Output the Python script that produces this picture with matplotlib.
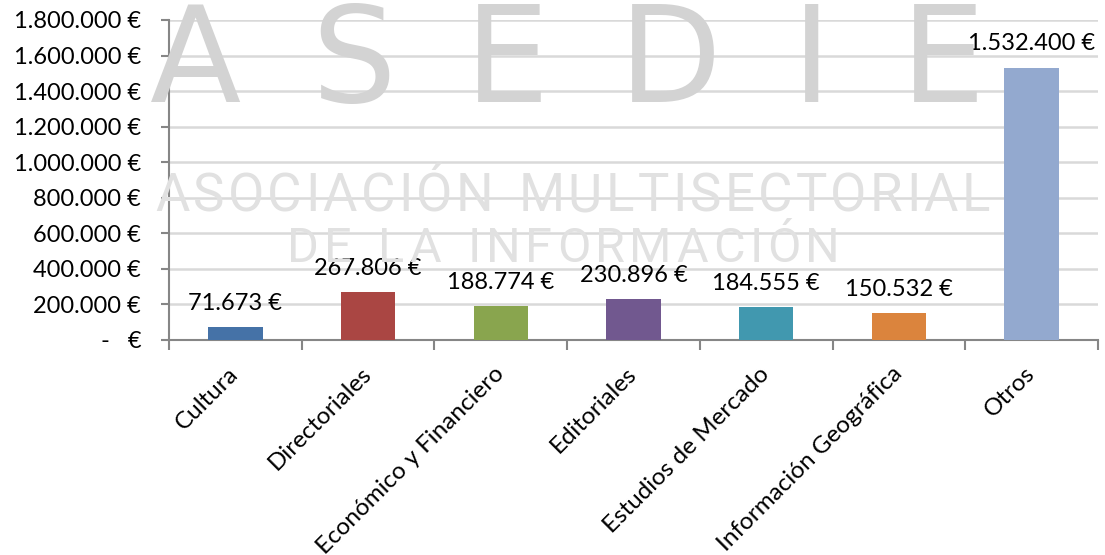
import matplotlib
matplotlib.use("Agg")
import matplotlib.pyplot as plt
from matplotlib.ticker import FuncFormatter, FixedLocator

# Chart data
categories = ["Cultura", "Directoriales", "Económico y Financiero", "Editoriales",
              "Estudios de Mercado", "Información Geográfica", "Otros"]
values = [71673, 267806, 188774, 230896, 184555, 150532, 1532400]
colors = ["#4572A7", "#AA4643", "#89A54E", "#71588F", "#4198AF", "#DB843D", "#93A9CF"]
y_ticks = [0, 200000, 400000, 600000, 800000, 1000000, 1200000, 1400000, 1600000, 1800000]

W, H = 1105, 555


def euro(v, pos=None):
    if v == 0:
        return "-   €"
    return "{:,.0f} €".format(v).replace(",", ".")


def spread_text(fig, s, x0, x1, base_y, **kw):
    # lay the letters of a watermark line out evenly between x0 and x1 (pixels)
    r = fig.canvas.get_renderer()
    items = []
    for ch in s:
        if ch == " ":
            items.append((None, None))
            continue
        t = fig.text(0, 1 - base_y / H, ch, va="baseline", ha="left", zorder=0, **kw)
        items.append((t, t.get_window_extent(r).width))
    widths = [w for t, w in items if t is not None]
    space = 0.6 * sum(widths) / len(widths)
    items = [(t, space if t is None else w) for t, w in items]
    gap = (x1 - x0 - sum(w for _, w in items)) / (len(items) - 1)
    x = x0
    for t, w in items:
        if t is not None:
            t.set_x(x / W)
        x += w + gap


plt.rcParams["font.family"] = ["Lato", "DejaVu Sans"]

fig = plt.figure(figsize=(11.05, 5.55), dpi=100)
ax = fig.add_axes([169 / W, 1 - 340 / H, 929 / W, 320 / H])
ax.patch.set_alpha(0)

# watermark behind the chart
spread_text(fig, "ASEDIE", 150, 985, 102, fontsize=96, color="#d3d3d3",
            family="DejaVu Sans")
spread_text(fig, "ASOCIACIÓN MULTISECTORIAL", 155, 990, 211, fontsize=38,
            color="#e1e1e1", family="Roboto")
spread_text(fig, "DE LA INFORMACIÓN", 287, 840, 262, fontsize=35,
            color="#e1e1e1", family="Roboto")

x = range(len(categories))
bars = ax.bar(x, values, width=0.41, color=colors, zorder=3)

for xi, v in zip(x, values):
    ax.annotate(euro(v), (xi, v), xytext=(0, 9.5), textcoords="offset points",
                ha="center", va="bottom", fontsize=17, color="black", zorder=4)

ax.set_xlim(-0.5, len(categories) - 0.5)
ax.set_ylim(0, 1800000)
ax.set_yticks(y_ticks)
ax.yaxis.set_major_formatter(FuncFormatter(euro))
ax.grid(axis="y", color="#d9d9d9", linewidth=1.8, zorder=1)
ax.set_axisbelow(True)

ax.set_xticks(list(x))
ax.set_xticklabels(categories, rotation=45, ha="right", va="center",
                   rotation_mode="anchor", fontsize=17.5)
ax.xaxis.set_minor_locator(FixedLocator([i - 0.5 for i in range(len(categories) + 1)]))
ax.tick_params(axis="x", which="major", length=0, pad=22)
ax.tick_params(axis="x", which="minor", length=7, width=1.5, color="#868686")
ax.tick_params(axis="y", length=6, width=1.5, color="#868686", labelsize=17, pad=14)

for s in ["top", "right"]:
    ax.spines[s].set_visible(False)
for s in ["left", "bottom"]:
    ax.spines[s].set_color("#868686")
    ax.spines[s].set_linewidth(1.5)

fig.savefig("out.png", dpi=100)
